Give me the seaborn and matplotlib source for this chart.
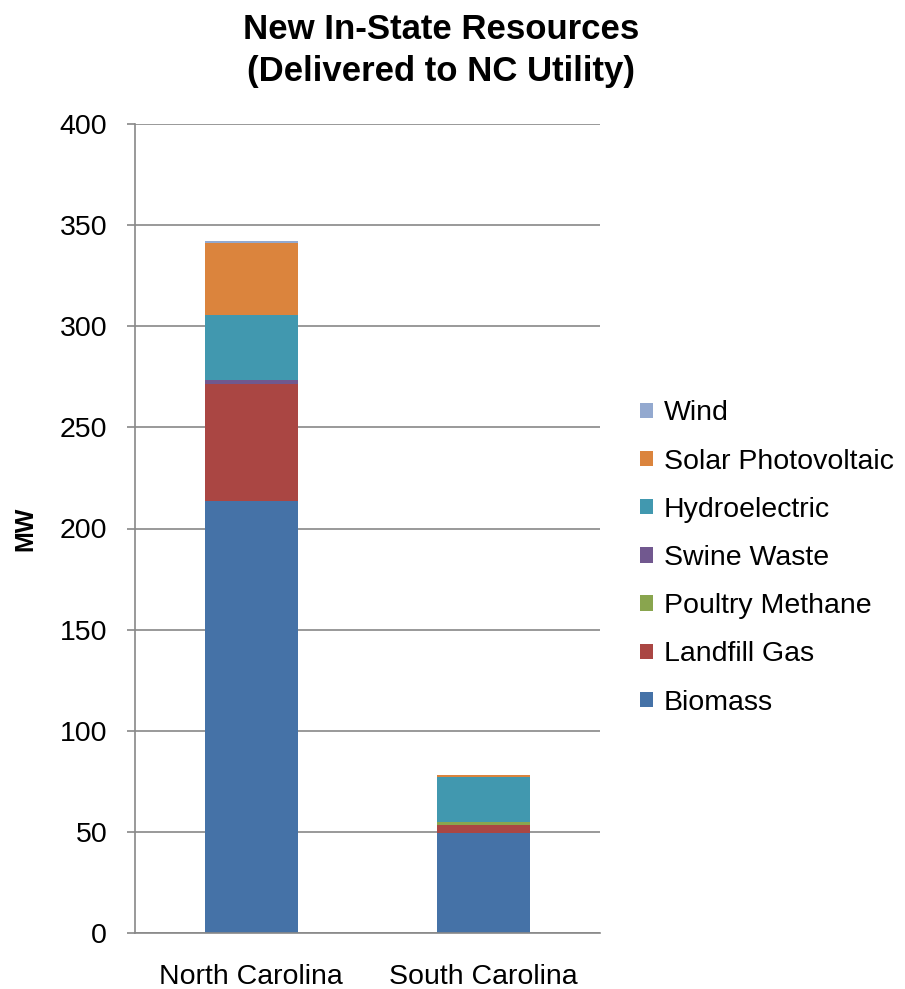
import numpy as np
import pandas as pd
import seaborn as sns
from matplotlib import pyplot as plt

# values (MW)
states = ["North Carolina", "South Carolina"]
biomass = [213.6, 49.6]
landfill_gas = [57.7, 3.6]
poultry_methane = [0.0, 1.8]
swine_waste = [2.1, 0.0]
hydroelectric = [32.0, 21.9]
solar_pv = [35.6, 1.0]
wind = [1.2, 0.0]

series_names = ["Biomass", "Landfill Gas", "Poultry Methane", "Swine Waste",
                "Hydroelectric", "Solar Photovoltaic", "Wind"]
series_vals = [biomass, landfill_gas, poultry_methane, swine_waste,
               hydroelectric, solar_pv, wind]
colors = ["#4572A7", "#AA4643", "#89A54E", "#71588F", "#4198AF", "#DB843D", "#93A9CF"]

sns.set_style("white")
plt.rcParams['font.family'] = ['Liberation Sans', 'DejaVu Sans']
plt.rcParams['text.color'] = 'black'
plt.rcParams['xtick.color'] = 'black'
plt.rcParams['ytick.color'] = 'black'

fig = plt.figure(figsize=(9.05, 9.89), dpi=100)
ax = fig.add_axes([135/905, 1 - 933/989, 465/905, 809/989])

bottom = np.zeros(len(states))
for name, vals, col in zip(series_names, series_vals, colors):
    df = pd.DataFrame({"state": states, "mw": vals})
    sns.barplot(data=df, x="state", y="mw", order=states, color=col, width=0.4,
                bottom=bottom.copy(), errorbar=None, label=name, ax=ax,
                saturation=1, edgecolor="none", linewidth=0)
    bottom += np.array(vals)

ax.set_ylim(0, 400)
ax.set_xlim(-0.5, 1.5)
ax.set_yticks(range(0, 401, 50))
ax.yaxis.grid(True, color="#888888", linewidth=1.2)
ax.set_axisbelow(True)
for s in ["top", "right"]:
    ax.spines[s].set_visible(False)
for s in ["left", "bottom"]:
    ax.spines[s].set_color("#888888")
    ax.spines[s].set_linewidth(1.2)

ax.set_xticks([0, 1])
ax.set_xticklabels(states)
ax.set_xticks([-0.5, 0.5, 1.5], minor=True)
ax.tick_params(axis="x", which="major", length=0, pad=22, labelsize=20.5, labelcolor="black")
ax.tick_params(axis="x", which="minor", length=6, color="#888888", width=1.2)
ax.tick_params(axis="y", length=6, color="#888888", width=1.2, labelsize=20.5,
               labelcolor="black", left=True, pad=14)
ax.set_xlabel("")
ax.set_ylabel("MW", fontsize=18, fontweight="bold", labelpad=16, color="black")

fig.text(441/905, 1 - 13/989, "New In-State Resources\n(Delivered to NC Utility)",
         ha="center", va="top", fontsize=25, fontweight="bold", linespacing=1.36)

handles, labels = ax.get_legend_handles_labels()
leg = ax.legend(handles[::-1], labels[::-1], loc="center left",
                bbox_to_anchor=(1.086, 0.4635), borderpad=0, borderaxespad=0,
                frameon=False, fontsize=20.5, handlelength=0.45, handleheight=0.45,
                handletextpad=0.38, labelspacing=0.78)

fig.savefig("out.png", dpi=100)
